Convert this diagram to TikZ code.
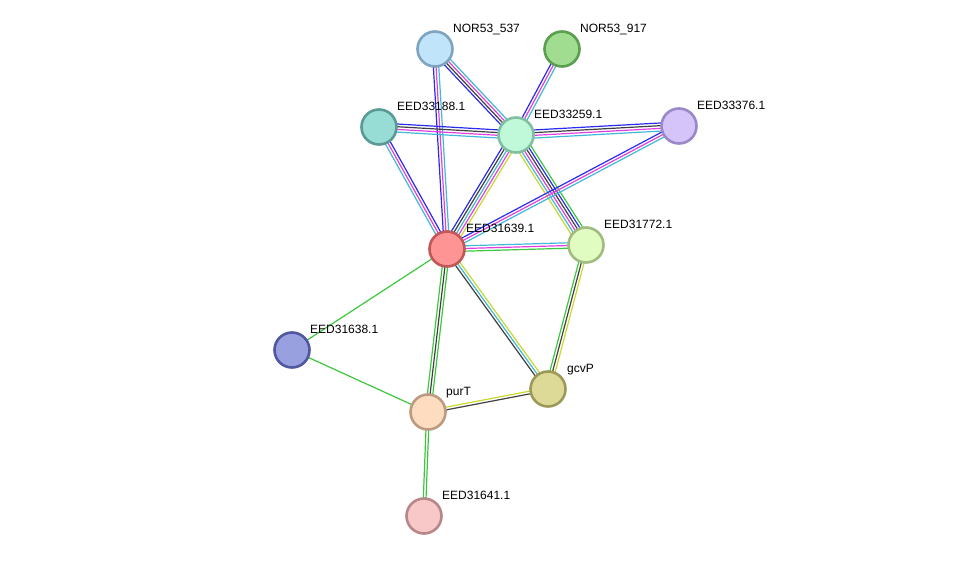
\documentclass[tikz,border=0pt]{standalone}
\usepackage{fontspec}
\setmainfont{Liberation Sans}
\usetikzlibrary{calc,backgrounds}
\definecolor{sgreen}{HTML}{3CC83C}
\definecolor{syellow}{HTML}{C8D82C}
\definecolor{sblue}{HTML}{2A2AF0}
\definecolor{sdark}{HTML}{404040}
\definecolor{smag}{HTML}{E040E0}
\definecolor{scyan}{HTML}{40B8D8}
\tikzset{
  prot/.style={circle, minimum size=35pt, inner sep=0pt, line width=2.6pt},
  lbl/.style={inner sep=0pt, anchor=base west, font=\fontsize{12}{14}\selectfont},
  edgeline/.style={line width=1.2pt},
}
\newcommand\bund[3]{%
  \foreach \c [count=\i] in {#3} {\global\let\nn\i}%
  \foreach \c [count=\i] in {#3} {%
    \pgfmathsetmacro\off{(\i-(\nn+1)/2)*2.7}%
    \draw[\c, edgeline] ($(#1)!\off pt!90:(#2)$) -- ($(#2)!\off pt!-90:(#1)$);
  }%
}
\begin{document}
\begin{tikzpicture}[x=1pt,y=-1pt]
\useasboundingbox (0,0) rectangle (975,562);
\node[prot, fill={rgb,255:red,192;green,228;blue,250}, draw={rgb,255:red,127;green,164;blue,192}] (n537) at (435,49) {};
\node[prot, fill={rgb,255:red,160;green,221;blue,144}, draw={rgb,255:red,90;green,158;blue,80}] (n917) at (562,49) {};
\node[prot, fill={rgb,255:red,152;green,221;blue,213}, draw={rgb,255:red,90;green,154;blue,148}] (e188) at (379,127) {};
\node[prot, fill={rgb,255:red,192;green,248;blue,218}, draw={rgb,255:red,128;green,192;blue,160}] (e259) at (516,135) {};
\node[prot, fill={rgb,255:red,212;green,196;blue,250}, draw={rgb,255:red,154;green,136;blue,200}] (e376) at (679,126) {};
\node[prot, fill={rgb,255:red,255;green,148;blue,148}, draw={rgb,255:red,192;green,88;blue,88}] (e639) at (447,249) {};
\node[prot, fill={rgb,255:red,224;green,252;blue,192}, draw={rgb,255:red,160;green,188;blue,128}] (e772) at (586,245) {};
\node[prot, fill={rgb,255:red,152;green,160;blue,224}, draw={rgb,255:red,80;green,88;blue,160}] (e638) at (292,350) {};
\node[prot, fill={rgb,255:red,220;green,218;blue,150}, draw={rgb,255:red,156;green,154;blue,88}] (gcvp) at (548,389) {};
\node[prot, fill={rgb,255:red,253;green,220;blue,192}, draw={rgb,255:red,188;green,156;blue,128}] (purt) at (428,412) {};
\node[prot, fill={rgb,255:red,248;green,200;blue,200}, draw={rgb,255:red,184;green,136;blue,136}] (e641) at (424,516) {};
\node[lbl] (l537) at ($(n537)+(18,-17)$) {NOR53\_537};
\node[lbl] (l917) at ($(n917)+(18,-17)$) {NOR53\_917};
\node[lbl] (l188) at ($(e188)+(18,-17)$) {EED33188.1};
\node[lbl] (l259) at ($(e259)+(18,-17)$) {EED33259.1};
\node[lbl] (l376) at ($(e376)+(18,-17)$) {EED33376.1};
\node[lbl] (l639) at ($(e639)+(19,-17)$) {EED31639.1};
\node[lbl] (l772) at ($(e772)+(18,-17)$) {EED31772.1};
\node[lbl] (l638) at ($(e638)+(18,-17)$) {EED31638.1};
\node[lbl] (lgcv) at ($(gcvp)+(19,-17)$) {gcvP};
\node[lbl] (lpur) at ($(purt)+(18,-17)$) {purT};
\node[lbl] (l641) at ($(e641)+(18,-17)$) {EED31641.1};
\begin{pgfonlayer}{background}
\bund{n537}{e259}{sblue,sdark,smag,scyan}
\bund{n537}{e639}{sblue,smag,scyan}
\bund{n917}{e259}{sblue,smag,scyan}
\bund{e188}{e259}{scyan,smag,sdark,sblue}
\bund{e188}{e639}{scyan,smag,sblue}
\bund{e259}{e376}{scyan,smag,sdark,sblue}
\bund{e259}{e639}{sblue,sdark,scyan,smag,syellow}
\bund{e259}{e772}{syellow,scyan,smag,sdark,sblue,sgreen}
\bund{e376}{e639}{sblue,smag,scyan}
\bund{e639}{e772}{sgreen,smag,scyan}
\bund{e639}{e638}{sgreen}
\bund{e639}{purt}{sgreen,sdark,sgreen}
\bund{e639}{gcvp}{sdark,scyan,syellow}
\bund{e772}{gcvp}{sgreen,sdark,syellow}
\bund{e638}{purt}{sgreen}
\bund{purt}{gcvp}{sdark,syellow}
\bund{purt}{e641}{sgreen,sgreen}
\end{pgfonlayer}
\end{tikzpicture}
\end{document}
